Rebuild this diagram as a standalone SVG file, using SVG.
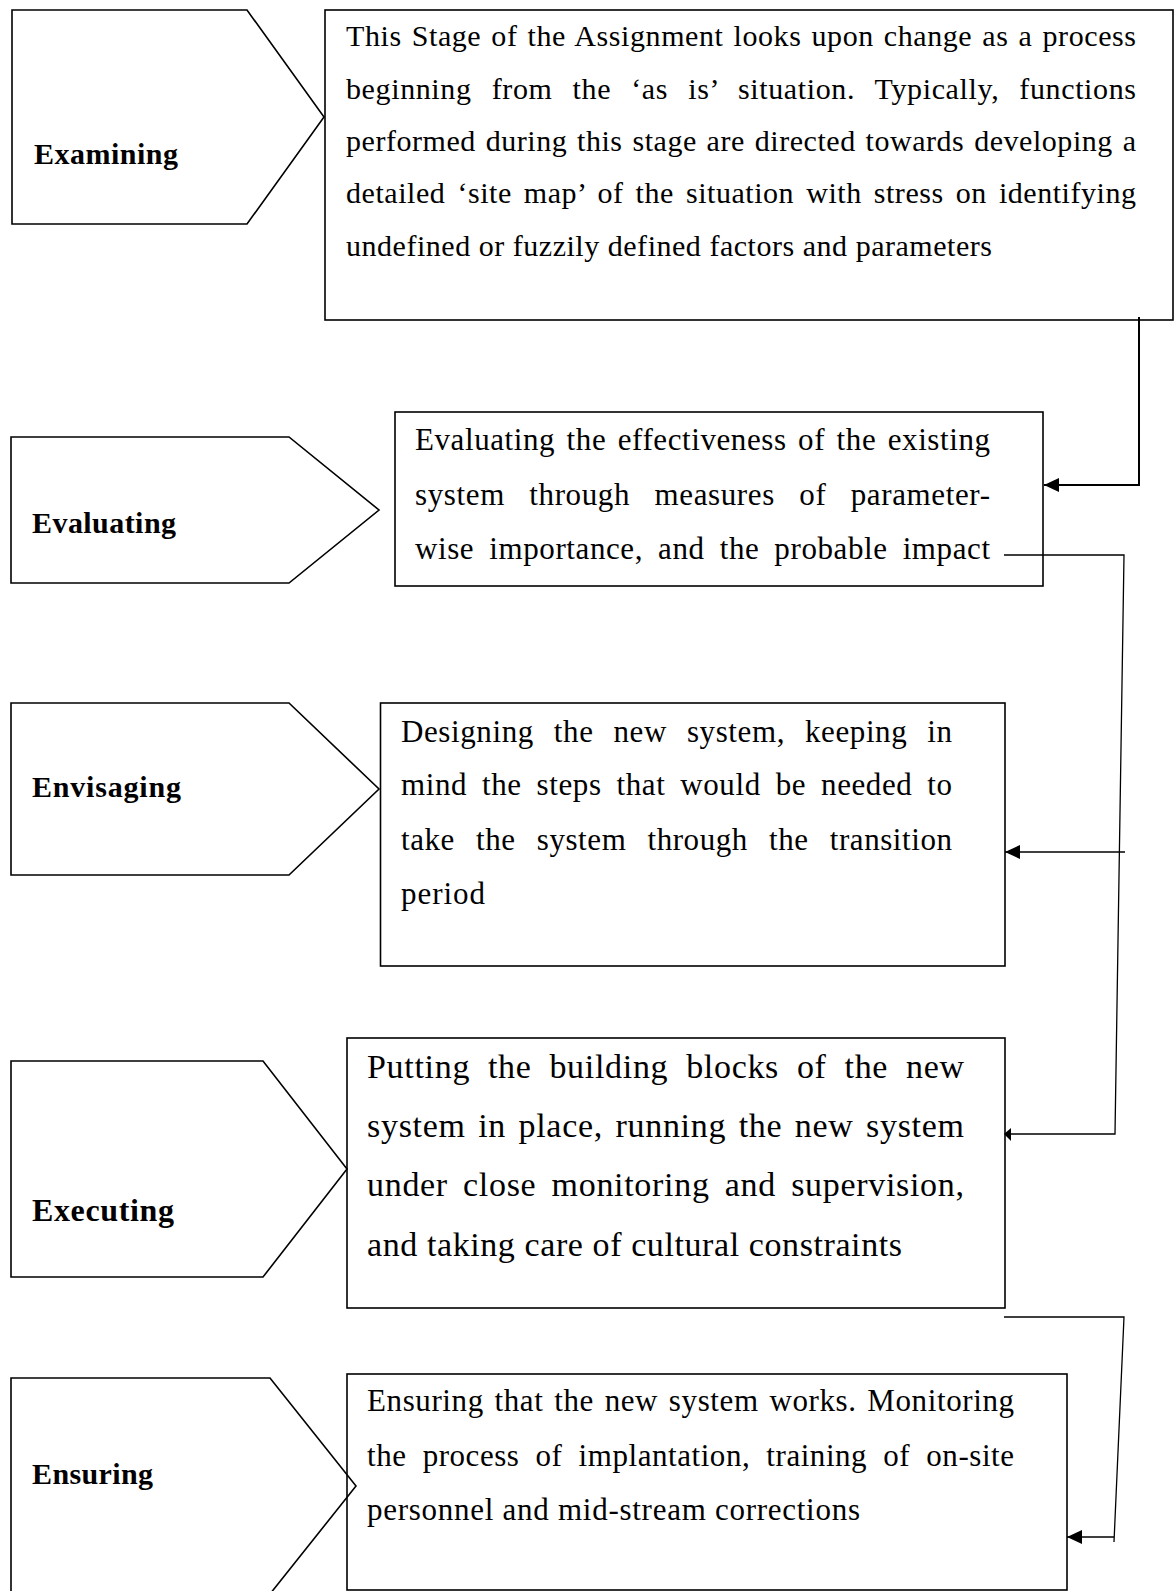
<svg xmlns="http://www.w3.org/2000/svg" width="1175" height="1591" viewBox="0 0 1175 1591">
<style>
.box{fill:none;stroke:#000;stroke-width:1.6}
.tag{fill:none;stroke:#000;stroke-width:1.6}
.t{font-family:"Liberation Serif","Times New Roman",serif;fill:#000}
.s30{font-size:30px}
.s31{font-size:31px}
.s34{font-size:34px}
.lab{font-family:"Liberation Serif","Times New Roman",serif;font-weight:bold;font-size:30px;fill:#000}
.conn{fill:none;stroke:#000;stroke-width:1.3}
.conn2{fill:none;stroke:#000;stroke-width:2}
</style>
<defs>
<marker id="arr" markerUnits="userSpaceOnUse" viewBox="0 0 15 14" refX="15" refY="7" markerWidth="15" markerHeight="14" orient="auto">
<path d="M0,0 L15,7 L0,14 z" fill="#000"/>
</marker>
</defs>
<rect x="0" y="0" width="1175" height="1591" fill="#fff"/>

<g id="examining">
<polygon class="tag" points="12,10 247,10 324,117 247,224 12,224"/>
<text class="lab" x="34" y="164" textLength="144" lengthAdjust="spacing">Examining</text>
</g>
<g id="evaluating">
<polygon class="tag" points="11,437 289,437 379,510 289,583 11,583"/>
<text class="lab" x="32" y="533" textLength="144" lengthAdjust="spacing">Evaluating</text>
</g>
<g id="envisaging">
<polygon class="tag" points="11,703 289,703 379,789 289,875 11,875"/>
<text class="lab" x="32" y="797" textLength="149" lengthAdjust="spacing">Envisaging</text>
</g>
<g id="executing">
<polygon class="tag" points="11,1061 263,1061 347,1169 263,1277 11,1277"/>
<text class="lab" x="32" y="1221" style="font-size:32px" textLength="142" lengthAdjust="spacing">Executing</text>
</g>
<g id="ensuring">
<polygon class="tag" points="11,1378 270,1378 356,1486 270,1594 11,1594"/>
<text class="lab" x="32" y="1484" textLength="121" lengthAdjust="spacing">Ensuring</text>
</g>

<g id="box-examining">
<rect class="box" x="325" y="10" width="848" height="310"/>
<text class="t s30" x="346" y="46" style="word-spacing:2px" textLength="790" lengthAdjust="spacing">This Stage of the Assignment looks upon change as a process</text>
<text class="t s30" x="346" y="99" style="word-spacing:12px" textLength="790" lengthAdjust="spacing">beginning from the ‘as is’ situation. Typically, functions</text>
<text class="t s30" x="346" y="151" style="word-spacing:1.8px" textLength="790" lengthAdjust="spacing">performed during this stage are directed towards developing a</text>
<text class="t s30" x="346" y="203" style="word-spacing:4px" textLength="790" lengthAdjust="spacing">detailed ‘site map’ of the situation with stress on identifying</text>
<text class="t s30" x="346" y="256" textLength="646" lengthAdjust="spacing">undefined or fuzzily defined factors and parameters</text>
</g>

<g id="box-evaluating">
<rect class="box" x="395" y="412" width="648" height="174"/>
<text class="t s31" x="415" y="450" style="word-spacing:3.2px" textLength="575" lengthAdjust="spacing">Evaluating the effectiveness of the existing</text>
<text class="t s31" x="415" y="505" style="word-spacing:16px" textLength="575" lengthAdjust="spacing">system through measures of parameter-</text>
<text class="t s31" x="415" y="559" style="word-spacing:6.7px" textLength="575" lengthAdjust="spacing">wise importance, and the probable impact</text>
</g>

<g id="box-envisaging">
<rect class="box" x="380.5" y="703" width="624.5" height="263"/>
<text class="t s31" x="401" y="742" style="word-spacing:11.6px" textLength="551" lengthAdjust="spacing">Designing the new system, keeping in</text>
<text class="t s31" x="401" y="795" style="word-spacing:6.6px" textLength="551" lengthAdjust="spacing">mind the steps that would be needed to</text>
<text class="t s31" x="401" y="850" style="word-spacing:12.8px" textLength="551" lengthAdjust="spacing">take the system through the transition</text>
<text class="t s31" x="401" y="904" textLength="84" lengthAdjust="spacing">period</text>
</g>

<g id="box-executing">
<rect class="box" x="347" y="1038" width="658" height="270"/>
<text class="t s34" x="367" y="1078" style="word-spacing:8.7px" textLength="597" lengthAdjust="spacing">Putting the building blocks of the new</text>
<text class="t s34" x="367" y="1137" style="word-spacing:3.3px" textLength="597" lengthAdjust="spacing">system in place, running the new system</text>
<text class="t s34" x="367" y="1196" style="word-spacing:6px" textLength="597" lengthAdjust="spacing">under close monitoring and supervision,</text>
<text class="t s34" x="367" y="1256" textLength="535" lengthAdjust="spacing">and taking care of cultural constraints</text>
</g>

<g id="box-ensuring">
<rect class="box" x="347" y="1374" width="720" height="216"/>
<text class="t s31" x="367" y="1411" style="word-spacing:2.4px" textLength="647" lengthAdjust="spacing">Ensuring that the new system works. Monitoring</text>
<text class="t s31" x="367" y="1466" style="word-spacing:7.8px" textLength="647" lengthAdjust="spacing">the process of implantation, training of on-site</text>
<text class="t s31" x="367" y="1520" textLength="493" lengthAdjust="spacing">personnel and mid-stream corrections</text>
</g>

<g id="connectors">
<polyline class="conn2" points="1139,317 1139,485 1044,485" marker-end="url(#arr)"/>
<polyline class="conn" points="1004,555 1124,555 1115,1134 1008,1134"/>
<polygon points="1004,1134 1011,1128 1011,1141" fill="#000"/>
<line class="conn" x1="1125" y1="852" x2="1005" y2="852" marker-end="url(#arr)"/>
<polyline class="conn" points="1004,1317 1124,1317 1114,1542"/>
<line class="conn" x1="1114" y1="1537" x2="1067" y2="1537" marker-end="url(#arr)"/>
</g>
</svg>
